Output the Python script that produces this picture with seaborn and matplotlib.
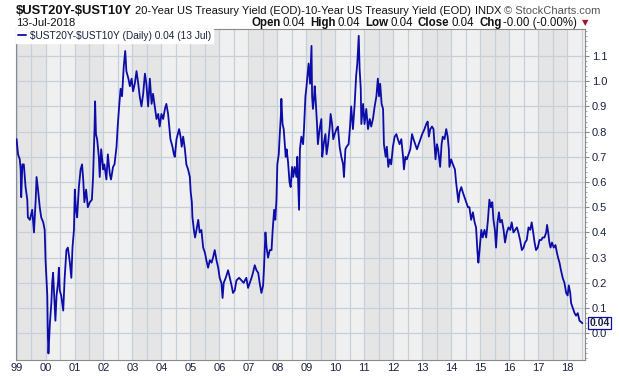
import matplotlib
matplotlib.use("Agg")
import matplotlib.pyplot as plt
import seaborn as sns
import pandas as pd
import numpy as np
from matplotlib import font_manager
from matplotlib.ticker import FixedLocator, MultipleLocator

# 20Y - 10Y treasury spread (decimal year, percentage points)
t_1999_2002 = [1999.00, 1999.05, 1999.11, 1999.14, 1999.16, 1999.20, 1999.25, 1999.31, 1999.37, 1999.39,
               1999.46, 1999.54, 1999.60, 1999.66, 1999.69, 1999.74, 1999.80, 1999.85, 1999.92, 1999.97,
               2000.00, 2000.06, 2000.08, 2000.10, 2000.15, 2000.20, 2000.23, 2000.26, 2000.31, 2000.34,
               2000.38, 2000.43, 2000.46, 2000.49, 2000.54, 2000.61, 2000.66, 2000.72, 2000.77, 2000.84,
               2000.89, 2000.93, 2000.98, 2001.01, 2001.05, 2001.09, 2001.15, 2001.21, 2001.26, 2001.30,
               2001.34, 2001.40, 2001.46, 2001.53, 2001.60, 2001.64, 2001.69, 2001.71, 2001.74, 2001.78,
               2001.84, 2001.87, 2001.92, 2001.99, 2002.03, 2002.10, 2002.15, 2002.22, 2002.26, 2002.33,
               2002.38, 2002.45, 2002.49, 2002.54, 2002.59, 2002.64, 2002.70, 2002.75, 2002.79, 2002.86]
v_1999_2002 = [0.77, 0.71, 0.69, 0.65, 0.54, 0.67, 0.67, 0.58, 0.53, 0.46,
               0.45, 0.49, 0.40, 0.53, 0.62, 0.57, 0.50, 0.46, 0.44, 0.41,
               0.29, 0.15, -0.01, -0.08, 0.04, 0.12, 0.20, 0.24, 0.12, 0.05,
               0.15, 0.20, 0.26, 0.17, 0.15, 0.09, 0.22, 0.33, 0.34, 0.28,
               0.22, 0.34, 0.41, 0.57, 0.49, 0.46, 0.58, 0.65, 0.67, 0.61,
               0.52, 0.57, 0.50, 0.52, 0.53, 0.62, 0.81, 0.92, 0.79, 0.77,
               0.70, 0.62, 0.73, 0.65, 0.67, 0.61, 0.71, 0.63, 0.61, 0.66,
               0.67, 0.74, 0.82, 0.90, 0.97, 0.94, 1.06, 1.12, 1.04, 1.01]

t_2003_2006 = [2002.91, 2002.97, 2003.02, 2003.08, 2003.14, 2003.20, 2003.25, 2003.31, 2003.37, 2003.43,
               2003.48, 2003.54, 2003.60, 2003.66, 2003.71, 2003.77, 2003.83, 2003.89, 2003.94, 2004.00,
               2004.06, 2004.12, 2004.17, 2004.23, 2004.27, 2004.31, 2004.38, 2004.43, 2004.46, 2004.52,
               2004.61, 2004.66, 2004.70, 2004.75, 2004.81, 2004.86, 2004.92, 2004.98, 2005.01, 2005.05,
               2005.07, 2005.12, 2005.16, 2005.21, 2005.27, 2005.32, 2005.38, 2005.44, 2005.50, 2005.55,
               2005.61, 2005.67, 2005.73, 2005.78, 2005.84, 2005.90, 2005.96, 2006.01, 2006.07, 2006.11,
               2006.15, 2006.22, 2006.30, 2006.36, 2006.42, 2006.47, 2006.53, 2006.59, 2006.68, 2006.76,
               2006.84]
v_2003_2006 = [0.98, 1.01, 0.96, 0.99, 1.04, 0.99, 0.94, 0.90, 0.95, 1.03,
               0.99, 0.90, 1.01, 0.91, 0.95, 0.90, 0.85, 0.87, 0.82, 0.87,
               0.85, 0.89, 0.91, 0.87, 0.82, 0.77, 0.74, 0.71, 0.70, 0.77,
               0.81, 0.78, 0.74, 0.78, 0.73, 0.67, 0.65, 0.62, 0.56, 0.52,
               0.46, 0.41, 0.38, 0.41, 0.45, 0.40, 0.41, 0.34, 0.32, 0.29,
               0.26, 0.29, 0.28, 0.30, 0.33, 0.29, 0.26, 0.22, 0.20, 0.14,
               0.20, 0.22, 0.25, 0.22, 0.19, 0.16, 0.17, 0.21, 0.22, 0.21,
               0.20]

t_2007_2010 = [2006.88, 2006.93, 2006.99, 2007.05, 2007.11, 2007.16, 2007.22, 2007.28, 2007.34, 2007.39,
               2007.45, 2007.51, 2007.54, 2007.59, 2007.63, 2007.68, 2007.74, 2007.80, 2007.84, 2007.89,
               2007.93, 2007.97, 2008.00, 2008.05, 2008.08, 2008.12, 2008.14, 2008.18, 2008.22, 2008.26,
               2008.29, 2008.32, 2008.37, 2008.42, 2008.46, 2008.51, 2008.55, 2008.60, 2008.66, 2008.69,
               2008.72, 2008.75, 2008.78, 2008.83, 2008.89, 2008.92, 2008.97, 2009.00, 2009.04, 2009.08,
               2009.13, 2009.18, 2009.20, 2009.23, 2009.27, 2009.29, 2009.32, 2009.37, 2009.40, 2009.46,
               2009.52, 2009.55, 2009.60, 2009.66, 2009.70, 2009.75, 2009.81, 2009.84, 2009.89, 2009.93,
               2009.98, 2010.04, 2010.09, 2010.15, 2010.21, 2010.27, 2010.30, 2010.35, 2010.39, 2010.46,
               2010.51, 2010.55, 2010.61, 2010.67, 2010.72, 2010.76, 2010.81]
v_2007_2010 = [0.21, 0.22, 0.18, 0.20, 0.22, 0.24, 0.27, 0.25, 0.24, 0.20,
               0.16, 0.19, 0.26, 0.40, 0.34, 0.30, 0.33, 0.33, 0.41, 0.49,
               0.45, 0.53, 0.67, 0.71, 0.78, 0.86, 0.93, 0.83, 0.81, 0.75,
               0.70, 0.73, 0.68, 0.60, 0.58, 0.66, 0.62, 0.66, 0.62, 0.70,
               0.60, 0.49, 0.73, 0.78, 0.75, 0.81, 0.94, 0.97, 1.02, 1.07,
               0.99, 1.14, 0.94, 0.89, 0.94, 0.98, 0.93, 0.83, 0.75, 0.81,
               0.85, 0.70, 0.75, 0.79, 0.71, 0.75, 0.82, 0.87, 0.83, 0.77,
               0.79, 0.81, 0.82, 0.74, 0.70, 0.67, 0.62, 0.73, 0.74, 0.75,
               0.82, 0.90, 0.81, 0.91, 1.02, 1.07, 1.18]

t_2011_2014 = [2010.84, 2010.88, 2010.90, 2010.96, 2011.01, 2011.07, 2011.13, 2011.19, 2011.24, 2011.30,
               2011.36, 2011.42, 2011.47, 2011.51, 2011.55, 2011.60, 2011.65, 2011.68, 2011.74, 2011.78,
               2011.83, 2011.88, 2011.93, 2011.99, 2012.05, 2012.11, 2012.16, 2012.22, 2012.28, 2012.34,
               2012.37, 2012.42, 2012.47, 2012.53, 2012.59, 2012.65, 2012.70, 2012.76, 2012.82, 2012.88,
               2012.94, 2013.00, 2013.08, 2013.14, 2013.19, 2013.23, 2013.28, 2013.34, 2013.39, 2013.43,
               2013.46, 2013.51, 2013.55, 2013.62, 2013.67, 2013.71, 2013.77, 2013.83, 2013.88, 2013.92,
               2013.94, 2014.00, 2014.06, 2014.13, 2014.17, 2014.21, 2014.25, 2014.29, 2014.35, 2014.40,
               2014.46, 2014.52, 2014.58]
v_2011_2014 = [1.05, 0.97, 0.83, 0.91, 0.83, 0.89, 0.81, 0.85, 0.82, 0.85,
               0.90, 0.94, 1.01, 0.94, 0.99, 0.91, 0.89, 0.75, 0.70, 0.74,
               0.66, 0.69, 0.67, 0.74, 0.78, 0.79, 0.77, 0.75, 0.77, 0.70,
               0.65, 0.70, 0.69, 0.71, 0.73, 0.79, 0.77, 0.75, 0.73, 0.75,
               0.77, 0.79, 0.81, 0.83, 0.84, 0.78, 0.81, 0.82, 0.81, 0.74,
               0.69, 0.75, 0.73, 0.66, 0.75, 0.78, 0.77, 0.81, 0.78, 0.73,
               0.66, 0.69, 0.67, 0.65, 0.60, 0.56, 0.52, 0.56, 0.58, 0.56,
               0.54, 0.52, 0.50]

t_2015_2018 = [2014.63, 2014.69, 2014.75, 2014.81, 2014.86, 2014.91, 2014.94, 2014.98, 2015.04, 2015.09,
               2015.15, 2015.21, 2015.27, 2015.32, 2015.37, 2015.42, 2015.46, 2015.51, 2015.55, 2015.60,
               2015.65, 2015.69, 2015.75, 2015.81, 2015.86, 2015.92, 2015.98, 2016.04, 2016.09, 2016.15,
               2016.21, 2016.27, 2016.32, 2016.38, 2016.44, 2016.50, 2016.55, 2016.61, 2016.67, 2016.73,
               2016.78, 2016.82, 2016.88, 2016.93, 2016.99, 2017.05, 2017.11, 2017.16, 2017.22, 2017.28,
               2017.31, 2017.35, 2017.39, 2017.43, 2017.48, 2017.54, 2017.60, 2017.65, 2017.69, 2017.74,
               2017.79, 2017.85, 2017.91, 2017.97, 2018.02, 2018.06, 2018.11, 2018.14, 2018.20, 2018.26,
               2018.31, 2018.37, 2018.43, 2018.53]
v_2015_2018 = [0.50, 0.45, 0.48, 0.44, 0.42, 0.32, 0.28, 0.33, 0.41, 0.38,
               0.41, 0.38, 0.45, 0.53, 0.50, 0.52, 0.45, 0.41, 0.34, 0.44,
               0.48, 0.44, 0.45, 0.41, 0.36, 0.40, 0.42, 0.41, 0.44, 0.40,
               0.41, 0.42, 0.40, 0.37, 0.33, 0.34, 0.36, 0.37, 0.42, 0.41,
               0.44, 0.41, 0.36, 0.33, 0.34, 0.37, 0.37, 0.38, 0.38, 0.40,
               0.43, 0.40, 0.36, 0.34, 0.36, 0.34, 0.35, 0.32, 0.30, 0.28,
               0.25, 0.22, 0.20, 0.16, 0.15, 0.19, 0.16, 0.12, 0.10, 0.08,
               0.07, 0.08, 0.05, 0.04]

year_labels = list(range(1999, 2019))
y_ticks = [0.0, 0.1, 0.2, 0.3, 0.4, 0.5, 0.6, 0.7, 0.8, 0.9, 1.0, 1.1]
last_value = 0.04

df = pd.DataFrame({
    "year": np.concatenate([t_1999_2002, t_2003_2006, t_2007_2010, t_2011_2014, t_2015_2018]),
    "spread": np.concatenate([v_1999_2002, v_2003_2006, v_2007_2010, v_2011_2014, v_2015_2018]),
})

sns.set_theme(style="white")
plt.rcParams["font.family"] = ["Liberation Sans", "DejaVu Sans"]

navy = "#1b2140"
line_col = "#0c0ca8"
grid_col = "#c7cfd9"

fig = plt.figure(figsize=(6.2, 3.76), dpi=100)
W, H = 620, 376
ax = fig.add_axes([16 / W, 1 - 360 / H, (585 - 16) / W, (360 - 29) / H])
ax.set_facecolor("#f0f0f0")

# alternating year bands
for yr in year_labels:
    if yr % 2 == 1:
        ax.axvspan(yr, yr + 1, color="#e5e5e5", lw=0, zorder=0.2)

sns.lineplot(data=df, x="year", y="spread", ax=ax, color=line_col, lw=1.3,
             label=r"\$UST20Y-\$UST10Y (Daily) 0.04 (13 Jul)", zorder=3)

ax.set_xlim(1998.98, 2018.62)
ax.set_ylim(-0.106, 1.207)
ax.set_xlabel("")
ax.set_ylabel("")

ax.xaxis.set_major_locator(FixedLocator(year_labels))
ax.xaxis.set_minor_locator(FixedLocator([y + 0.5 for y in year_labels]))
ax.set_xticklabels([f"{y % 100:02d}" for y in year_labels])
ax.tick_params(axis="x", which="both", length=0, pad=2, labelsize=8, labelcolor=navy)

ax.yaxis.tick_right()
ax.yaxis.set_major_locator(FixedLocator(y_ticks))
ax.yaxis.set_minor_locator(MultipleLocator(0.02))
ax.set_yticklabels([f"{v:.1f}" for v in y_ticks])
ax.tick_params(axis="y", which="major", length=3, width=0.8, color="#888888",
               pad=2, labelsize=8, labelcolor=navy)
ax.tick_params(axis="y", which="minor", length=1.5, width=0.6, color="#999999")

ax.set_axisbelow(True)
ax.grid(True, which="both", axis="x", color=grid_col, lw=0.9)
ax.grid(True, which="major", axis="y", color=grid_col, lw=0.9)
for s in ax.spines.values():
    s.set_color("#8a8a8a")
    s.set_linewidth(0.8)

leg = ax.legend(loc="upper left", bbox_to_anchor=(0, 1), borderaxespad=0, frameon=True,
                fancybox=False, edgecolor="white", facecolor="white", framealpha=1,
                fontsize=7.3, handlelength=0.8, handletextpad=0.35, borderpad=0.2)
for txt in leg.get_texts():
    txt.set_color(navy)

ax.annotate(f"{last_value:.2f}", xy=(1, last_value), xycoords=("axes fraction", "data"),
            xytext=(3, 0), textcoords="offset points", ha="left", va="center",
            fontsize=7.5, fontweight="bold", color=navy, annotation_clip=False,
            bbox=dict(boxstyle="square,pad=0.12", fc="white", ec=line_col, lw=0.9))

# header lines, placed one piece after another
names = {f.name for f in font_manager.fontManager.ttflist}
narrow = "Liberation Sans Narrow" in names
renderer = fig.canvas.get_renderer()


def put(x, y, s, **kw):
    t = fig.text(x / W, 1 - y / H, s, va="baseline", **kw)
    return t.get_window_extent(renderer=renderer).x1


x = put(16, 14, r"\$UST20Y-\$UST10Y", fontsize=11 if narrow else 9.4, fontweight="bold",
        color="#111111", family=["Liberation Sans Narrow", "Liberation Sans"] if narrow else ["Liberation Sans"])
x = put(x + 3, 14, "20-Year US Treasury Yield (EOD)-10-Year US Treasury Yield (EOD)",
        fontsize=8.0, color="#111111")
x = put(x + 4, 14, "INDX", fontsize=8.0, color="#111111")
put(x + 3, 14, "© StockCharts.com", fontsize=8.0, color="#555555")

put(16, 26, "13-Jul-2018", fontsize=8, color="#111111")
pieces = [("Open", True), ("0.04", False), ("High", True), ("0.04", False), ("Low", True),
          ("0.04", False), ("Close", True), ("0.04", False), ("Chg", True), ("-0.00 (-0.00%)", False)]
x = 251
for s, bold in pieces:
    x = put(x, 26, s, fontsize=8.3, color="#111111", fontweight="bold" if bold else "normal") + (2 if bold else 5)
put(x, 25, "▼", fontsize=6, color="#a0142a", family=["DejaVu Sans"])

fig.savefig("out.png", dpi=100)
